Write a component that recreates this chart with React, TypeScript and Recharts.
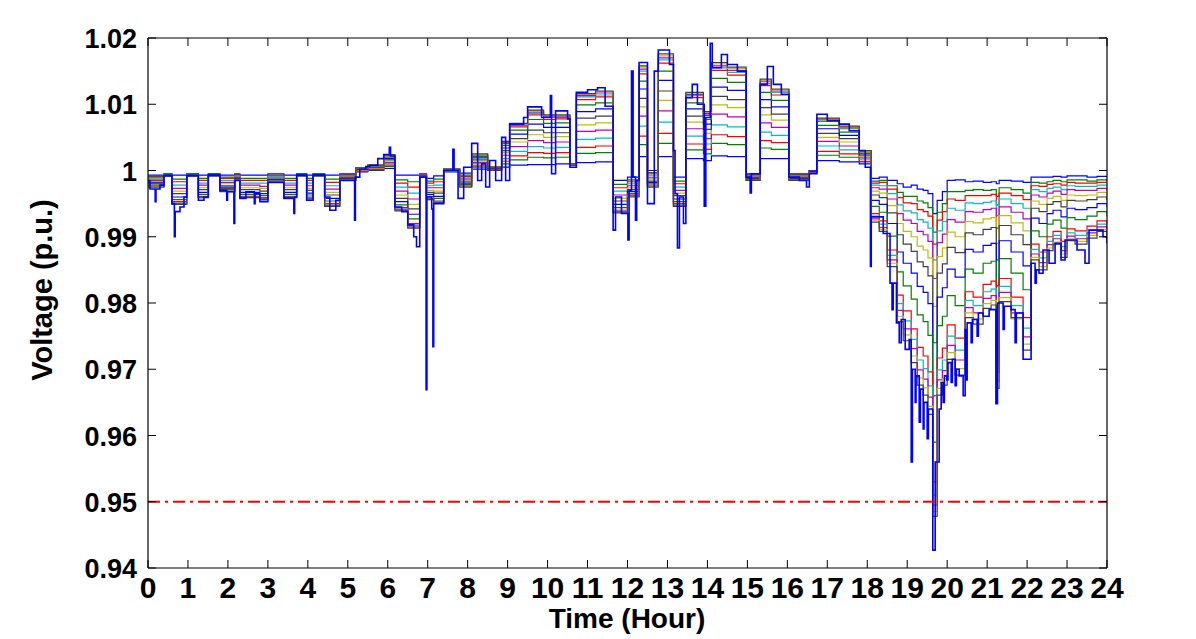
import React from 'react';
import { LineChart, Line, XAxis, YAxis, ReferenceLine } from 'recharts';

const hourTicks = [0, 1, 2, 3, 4, 5, 6, 7, 8, 9, 10, 11, 12, 13, 14, 15, 16, 17, 18, 19, 20, 21, 22, 23, 24];
const voltTicks = [0.94, 0.95, 0.96, 0.97, 0.98, 0.99, 1, 1.01, 1.02];
const limitVoltage = 0.95;

// shared time grid for the intermediate buses
const gridHours = [0, 0.4, 0.6, 0.97, 1.26, 1.51, 1.8, 2.17, 2.3, 2.8, 3.0, 3.4, 3.72, 3.97, 4.13, 4.42, 4.8, 5.2, 5.5, 5.9,
  6.18, 6.5, 6.8, 6.97, 7.15, 7.4, 7.8, 8.1, 8.5, 8.85, 9.05, 9.5, 9.9, 10.2, 10.56, 10.72, 11.2, 11.64, 12.0, 12.29,
  12.5, 12.77, 13.15, 13.46, 13.9, 14.1, 14.5, 14.97, 15.32, 15.6, 16.04, 16.55, 16.74, 17.3, 17.8,
  18.1, 18.3, 18.5, 18.75, 18.9, 19.1, 19.25, 19.4, 19.52, 19.64, 19.75, 19.88, 20.0, 20.2, 20.45, 20.65,
  20.9, 21.1, 21.23, 21.3, 21.6, 21.9, 22.1, 22.3, 22.5, 22.65, 22.85, 23.0, 23.2, 23.5, 23.75, 24.0];

const busTop = [0.9993, 0.9995, 0.9993, 0.9995, 0.9993, 0.9995, 0.9993, 0.9995, 0.9993, 0.9993,
  0.9995, 0.9993, 0.9995, 0.9993, 0.9995, 0.9993, 0.9995, 0.9998, 1.0000, 1.0003,
  0.9993, 0.9993, 0.9995, 0.9988, 0.9992, 0.9998, 0.9996, 1.0002, 1.0000, 1.0005,
  1.0008, 1.0009, 1.0009, 1.0010, 1.0008, 1.0012, 1.0013, 0.9985, 0.9990, 1.0021,
  1.0000, 1.0021, 0.9990, 1.0018, 1.0015, 1.0022, 1.0021, 0.9995, 1.0018, 1.0018,
  0.9995, 0.9998, 1.0015, 1.0013, 1.0010,
  0.9988, 0.9990, 0.9985, 0.9980, 0.9975, 0.9978, 0.9972, 0.9970, 0.9965, 0.9935, 0.9955, 0.9968, 0.9985, 0.9986, 0.9983, 0.9984,
  0.9982, 0.9983, 0.9980, 0.9985, 0.9984, 0.9982, 0.9990, 0.9990, 0.9990, 0.9991, 0.9990, 0.9992, 0.9992, 0.9990, 0.9991, 0.9990];

const bus2 = [0.9991, 0.9995, 0.9987, 0.9995, 0.9988, 0.9995, 0.9990, 0.9994, 0.9988, 0.9988,
  0.9993, 0.9988, 0.9995, 0.9988, 0.9995, 0.9987, 0.9994, 0.9999, 1.0001, 1.0006,
  0.9986, 0.9983, 0.9994, 0.9984, 0.9987, 0.9999, 0.9993, 1.0005, 1.0001, 1.0010,
  1.0016, 1.0020, 1.0019, 1.0020, 1.0008, 1.0026, 1.0027, 0.9979, 0.9986, 1.0039,
  0.9997, 1.0041, 0.9984, 1.0031, 1.0025, 1.0041, 1.0039, 0.9994, 1.0034, 1.0032,
  0.9994, 0.9998, 1.0023, 1.0020, 1.0013,
  0.9984, 0.9985, 0.9977, 0.9967, 0.9961, 0.9961, 0.9954, 0.9951, 0.9944, 0.9907, 0.9937, 0.9950, 0.9968, 0.9968, 0.9970, 0.9971,
  0.9970, 0.9971, 0.9961, 0.9974, 0.9971, 0.9966, 0.9982, 0.9981, 0.9983, 0.9985, 0.9983, 0.9986, 0.9986, 0.9984, 0.9986, 0.9984];

const bus3 = [0.9989, 0.9994, 0.9983, 0.9994, 0.9985, 0.9994, 0.9988, 0.9993, 0.9985, 0.9985,
  0.9992, 0.9985, 0.9994, 0.9985, 0.9994, 0.9982, 0.9993, 0.9999, 1.0002, 1.0008,
  0.9981, 0.9975, 0.9994, 0.9981, 0.9983, 0.9999, 0.9991, 1.0007, 1.0001, 1.0014,
  1.0022, 1.0027, 1.0026, 1.0027, 1.0008, 1.0035, 1.0037, 0.9974, 0.9983, 1.0052,
  0.9995, 1.0056, 0.9980, 1.0040, 1.0032, 1.0054, 1.0051, 0.9993, 1.0045, 1.0042,
  0.9993, 0.9998, 1.0029, 1.0025, 1.0014,
  0.9981, 0.9982, 0.9972, 0.9959, 0.9951, 0.9950, 0.9941, 0.9938, 0.9931, 0.9889, 0.9925, 0.9938, 0.9957, 0.9955, 0.9962, 0.9962,
  0.9962, 0.9964, 0.9948, 0.9966, 0.9962, 0.9956, 0.9977, 0.9976, 0.9979, 0.9980, 0.9978, 0.9982, 0.9981, 0.9981, 0.9982, 0.9981];

const bus4 = [0.9987, 0.9994, 0.9978, 0.9994, 0.9981, 0.9994, 0.9985, 0.9992, 0.9981, 0.9981,
  0.9991, 0.9981, 0.9994, 0.9981, 0.9994, 0.9977, 0.9992, 1.0000, 1.0003, 1.0010,
  0.9975, 0.9966, 0.9993, 0.9977, 0.9978, 0.9999, 0.9989, 1.0010, 1.0002, 1.0018,
  1.0029, 1.0036, 1.0034, 1.0035, 1.0009, 1.0047, 1.0049, 0.9969, 0.9980, 1.0067,
  0.9992, 1.0073, 0.9975, 1.0052, 1.0040, 1.0069, 1.0066, 0.9992, 1.0058, 1.0053,
  0.9992, 0.9999, 1.0037, 1.0031, 1.0017,
  0.9978, 0.9977, 0.9965, 0.9948, 0.9939, 0.9936, 0.9926, 0.9922, 0.9913, 0.9865, 0.9909, 0.9923, 0.9943, 0.9940, 0.9951, 0.9950,
  0.9952, 0.9954, 0.9932, 0.9957, 0.9950, 0.9943, 0.9971, 0.9968, 0.9973, 0.9975, 0.9971, 0.9977, 0.9976, 0.9976, 0.9978, 0.9976];

const bus5 = [0.9985, 0.9994, 0.9973, 0.9994, 0.9978, 0.9994, 0.9982, 0.9991, 0.9978, 0.9976,
  0.9989, 0.9978, 0.9994, 0.9977, 0.9994, 0.9972, 0.9991, 1.0001, 1.0004, 1.0012,
  0.9969, 0.9957, 0.9993, 0.9974, 0.9974, 1.0000, 0.9987, 1.0012, 1.0002, 1.0023,
  1.0036, 1.0045, 1.0042, 1.0043, 1.0009, 1.0059, 1.0061, 0.9963, 0.9977, 1.0082,
  0.9989, 1.0090, 0.9970, 1.0063, 1.0048, 1.0085, 1.0081, 0.9991, 1.0072, 1.0065,
  0.9991, 0.9999, 1.0044, 1.0037, 1.0019,
  0.9974, 0.9972, 0.9957, 0.9935, 0.9925, 0.9920, 0.9908, 0.9903, 0.9893, 0.9837, 0.9891, 0.9904, 0.9926, 0.9922, 0.9938, 0.9937,
  0.9941, 0.9943, 0.9913, 0.9945, 0.9937, 0.9927, 0.9963, 0.9960, 0.9966, 0.9969, 0.9964, 0.9971, 0.9970, 0.9970, 0.9973, 0.9970];

const bus6 = [0.9983, 0.9993, 0.9969, 0.9993, 0.9974, 0.9993, 0.9980, 0.9990, 0.9974, 0.9973,
  0.9988, 0.9974, 0.9993, 0.9973, 0.9993, 0.9967, 0.9990, 1.0001, 1.0004, 1.0014,
  0.9963, 0.9949, 0.9992, 0.9970, 0.9969, 1.0000, 0.9985, 1.0014, 1.0003, 1.0027,
  1.0043, 1.0054, 1.0050, 1.0051, 1.0009, 1.0069, 1.0072, 0.9958, 0.9974, 1.0096,
  0.9987, 1.0106, 0.9966, 1.0073, 1.0056, 1.0099, 1.0095, 0.9990, 1.0084, 1.0076,
  0.9990, 0.9999, 1.0050, 1.0043, 1.0021,
  0.9969, 0.9966, 0.9947, 0.9920, 0.9908, 0.9900, 0.9886, 0.9880, 0.9868, 0.9795, 0.9870, 0.9883, 0.9907, 0.9900, 0.9923, 0.9921,
  0.9927, 0.9929, 0.9890, 0.9932, 0.9921, 0.9909, 0.9954, 0.9949, 0.9958, 0.9961, 0.9955, 0.9963, 0.9962, 0.9963, 0.9967, 0.9963];

const bus7 = [0.9982, 0.9993, 0.9965, 0.9993, 0.9971, 0.9993, 0.9977, 0.9989, 0.9971, 0.9969,
  0.9987, 0.9971, 0.9993, 0.9970, 0.9993, 0.9963, 0.9989, 1.0002, 1.0005, 1.0016,
  0.9958, 0.9942, 0.9992, 0.9967, 0.9966, 1.0001, 0.9983, 1.0016, 1.0003, 1.0030,
  1.0048, 1.0061, 1.0057, 1.0057, 1.0009, 1.0079, 1.0082, 0.9954, 0.9971, 1.0109,
  0.9984, 1.0120, 0.9962, 1.0082, 1.0062, 1.0112, 1.0107, 0.9989, 1.0095, 1.0085,
  0.9989, 0.9999, 1.0056, 1.0048, 1.0023,
  0.9963, 0.9959, 0.9936, 0.9903, 0.9889, 0.9878, 0.9862, 0.9855, 0.9841, 0.9740, 0.9845, 0.9859, 0.9884, 0.9876, 0.9906, 0.9903,
  0.9911, 0.9914, 0.9865, 0.9917, 0.9903, 0.9888, 0.9943, 0.9938, 0.9949, 0.9953, 0.9945, 0.9955, 0.9954, 0.9956, 0.9960, 0.9956];

const bus8 = [0.9980, 0.9993, 0.9960, 0.9993, 0.9967, 0.9993, 0.9975, 0.9988, 0.9967, 0.9965,
  0.9986, 0.9967, 0.9993, 0.9966, 0.9993, 0.9958, 0.9988, 1.0002, 1.0006, 1.0018,
  0.9953, 0.9934, 0.9991, 0.9964, 0.9961, 1.0001, 0.9981, 1.0019, 1.0004, 1.0034,
  1.0055, 1.0070, 1.0065, 1.0065, 1.0009, 1.0089, 1.0093, 0.9949, 0.9968, 1.0123,
  0.9982, 1.0136, 0.9957, 1.0093, 1.0070, 1.0126, 1.0121, 0.9988, 1.0107, 1.0096,
  0.9988, 0.9999, 1.0063, 1.0053, 1.0025,
  0.9955, 0.9949, 0.9920, 0.9877, 0.9860, 0.9845, 0.9825, 0.9816, 0.9799, 0.9660, 0.9809, 0.9823, 0.9851, 0.9839, 0.9881, 0.9877,
  0.9887, 0.9890, 0.9826, 0.9894, 0.9877, 0.9856, 0.9928, 0.9920, 0.9935, 0.9940, 0.9930, 0.9943, 0.9941, 0.9944, 0.9950, 0.9944];

const bus9 = [0.9978, 0.9993, 0.9956, 0.9993, 0.9964, 0.9993, 0.9973, 0.9987, 0.9964, 0.9962,
  0.9984, 0.9964, 0.9993, 0.9963, 0.9993, 0.9954, 0.9987, 1.0003, 1.0007, 1.0020,
  0.9948, 0.9927, 0.9991, 0.9961, 0.9958, 1.0001, 0.9979, 1.0021, 1.0004, 1.0038,
  1.0061, 1.0077, 1.0071, 1.0072, 1.0010, 1.0099, 1.0102, 0.9944, 0.9965, 1.0135,
  0.9980, 1.0150, 0.9953, 1.0102, 1.0077, 1.0139, 1.0133, 0.9987, 1.0118, 1.0106,
  0.9987, 1.0000, 1.0068, 1.0058, 1.0026,
  0.9946, 0.9937, 0.9901, 0.9847, 0.9826, 0.9806, 0.9782, 0.9772, 0.9751, 0.9590, 0.9766, 0.9780, 0.9811, 0.9796, 0.9851, 0.9845,
  0.9860, 0.9863, 0.9782, 0.9867, 0.9845, 0.9820, 0.9909, 0.9900, 0.9919, 0.9925, 0.9913, 0.9929, 0.9926, 0.9931, 0.9938, 0.9931];

const bus10 = [0.9977, 0.9992, 0.9953, 0.9992, 0.9961, 0.9992, 0.9971, 0.9986, 0.9961, 0.9959,
  0.9983, 0.9961, 0.9992, 0.9960, 0.9992, 0.9950, 0.9986, 1.0003, 1.0007, 1.0022,
  0.9944, 0.9920, 0.9991, 0.9958, 0.9954, 1.0002, 0.9977, 1.0023, 1.0005, 1.0041,
  1.0066, 1.0084, 1.0077, 1.0078, 1.0010, 1.0107, 1.0111, 0.9940, 0.9963, 1.0146,
  0.9978, 1.0162, 0.9950, 1.0110, 1.0083, 1.0151, 1.0144, 0.9986, 1.0128, 1.0114,
  0.9986, 1.0000, 1.0074, 1.0063, 1.0028,
  0.9935, 0.9924, 0.9880, 0.9812, 0.9788, 0.9761, 0.9733, 0.9720, 0.9696, 0.9530, 0.9717, 0.9732, 0.9767, 0.9747, 0.9817, 0.9809,
  0.9828, 0.9833, 0.9730, 0.9837, 0.9809, 0.9778, 0.9889, 0.9877, 0.9900, 0.9908, 0.9893, 0.9912, 0.9909, 0.9916, 0.9924, 0.9916];

const bus11 = [0.9976, 0.9992, 0.9951, 0.9992, 0.9960, 0.9992, 0.9970, 0.9986, 0.9960, 0.9958,
  0.9983, 0.9960, 0.9992, 0.9959, 0.9992, 0.9948, 0.9986, 1.0004, 1.0007, 1.0023,
  0.9942, 0.9918, 0.9990, 0.9957, 0.9953, 1.0002, 0.9976, 1.0023, 1.0005, 1.0042,
  1.0068, 1.0086, 1.0080, 1.0080, 1.0010, 1.0111, 1.0114, 0.9939, 0.9962, 1.0150,
  0.9977, 1.0167, 0.9948, 1.0113, 1.0085, 1.0155, 1.0148, 0.9986, 1.0131, 1.0118,
  0.9986, 1.0000, 1.0075, 1.0064, 1.0029,
  0.9931, 0.9919, 0.9872, 0.9799, 0.9773, 0.9745, 0.9714, 0.9701, 0.9675, 0.9510, 0.9699, 0.9714, 0.9750, 0.9729, 0.9804, 0.9796,
  0.9817, 0.9821, 0.9711, 0.9825, 0.9796, 0.9762, 0.9881, 0.9868, 0.9893, 0.9902, 0.9885, 0.9906, 0.9902, 0.9910, 0.9919, 0.9910];

const bus12 = [0.9976, 0.9992, 0.9950, 0.9992, 0.9960, 0.9992, 0.9969, 0.9986, 0.9960, 0.9957,
  0.9983, 0.9960, 0.9992, 0.9958, 0.9992, 0.9947, 0.9986, 1.0004, 1.0008, 1.0023,
  0.9941, 0.9916, 0.9990, 0.9957, 0.9952, 1.0002, 0.9976, 1.0024, 1.0005, 1.0043,
  1.0069, 1.0088, 1.0081, 1.0081, 1.0010, 1.0113, 1.0117, 0.9938, 0.9962, 1.0153,
  0.9976, 1.0170, 0.9947, 1.0115, 1.0086, 1.0158, 1.0151, 0.9986, 1.0134, 1.0120,
  0.9986, 1.0000, 1.0077, 1.0065, 1.0029,
  0.9927, 0.9914, 0.9865, 0.9789, 0.9761, 0.9731, 0.9699, 0.9685, 0.9658, 0.9495, 0.9684, 0.9698, 0.9736, 0.9714, 0.9793, 0.9785,
  0.9807, 0.9811, 0.9695, 0.9816, 0.9785, 0.9749, 0.9874, 0.9861, 0.9888, 0.9897, 0.9879, 0.9901, 0.9897, 0.9906, 0.9915, 0.9906];

const bus13 = [0.9976, 0.9992, 0.9949, 0.9992, 0.9959, 0.9992, 0.9969, 0.9985, 0.9959, 0.9956,
  0.9982, 0.9959, 0.9992, 0.9957, 0.9992, 0.9946, 0.9985, 1.0004, 1.0008, 1.0023,
  0.9940, 0.9914, 0.9990, 0.9956, 0.9951, 1.0002, 0.9976, 1.0024, 1.0005, 1.0044,
  1.0070, 1.0090, 1.0083, 1.0083, 1.0010, 1.0115, 1.0119, 0.9937, 0.9961, 1.0156,
  0.9976, 1.0173, 0.9946, 1.0117, 1.0088, 1.0161, 1.0154, 0.9985, 1.0136, 1.0122,
  0.9985, 1.0000, 1.0078, 1.0066, 1.0029,
  0.9925, 0.9911, 0.9860, 0.9780, 0.9752, 0.9720, 0.9687, 0.9672, 0.9644, 0.9485, 0.9671, 0.9686, 0.9725, 0.9701, 0.9785, 0.9776,
  0.9799, 0.9804, 0.9682, 0.9808, 0.9776, 0.9738, 0.9869, 0.9855, 0.9883, 0.9892, 0.9874, 0.9897, 0.9893, 0.9902, 0.9911, 0.9902];

const bus14 = [0.9975, 0.9992, 0.9949, 0.9992, 0.9959, 0.9992, 0.9968, 0.9985, 0.9959, 0.9956,
  0.9982, 0.9959, 0.9992, 0.9957, 0.9992, 0.9946, 0.9985, 1.0004, 1.0008, 1.0024,
  0.9939, 0.9913, 0.9990, 0.9956, 0.9951, 1.0002, 0.9975, 1.0025, 1.0005, 1.0044,
  1.0071, 1.0091, 1.0084, 1.0084, 1.0010, 1.0116, 1.0120, 0.9936, 0.9960, 1.0158,
  0.9975, 1.0176, 0.9946, 1.0118, 1.0089, 1.0163, 1.0156, 0.9985, 1.0138, 1.0123,
  0.9985, 1.0000, 1.0079, 1.0067, 1.0030,
  0.9922, 0.9908, 0.9855, 0.9772, 0.9743, 0.9710, 0.9676, 0.9661, 0.9632, 0.9478, 0.9661, 0.9676, 0.9715, 0.9691, 0.9778, 0.9768,
  0.9792, 0.9797, 0.9671, 0.9802, 0.9778, 0.9729, 0.9865, 0.9850, 0.9879, 0.9889, 0.9869, 0.9894, 0.9889, 0.9898, 0.9908, 0.9898];

// farthest bus, read at finer resolution (spikes included)
const farHours = [0.00, 0.05, 0.18, 0.20, 0.30, 0.40, 0.60, 0.66, 0.68, 0.80,
  0.90, 0.97, 1.26, 1.40, 1.51, 1.80, 1.97, 1.99, 2.15, 2.17,
  2.30, 2.45, 2.66, 2.68, 2.80, 3.00, 3.40, 3.65, 3.67, 3.72,
  3.97, 4.13, 4.42, 4.55, 4.70, 4.80, 5.17, 5.19, 5.30, 5.45,
  5.55, 5.75, 5.90, 6.04, 6.07, 6.18, 6.35, 6.50, 6.65, 6.72,
  6.80, 6.96, 6.98, 7.10, 7.13, 7.15, 7.40, 7.63, 7.66, 7.76,
  7.90, 8.10, 8.25, 8.35, 8.45, 8.55, 8.70, 8.85, 8.95, 9.05,
  9.40, 9.50, 9.85, 10.07, 10.10, 10.20, 10.50, 10.56, 10.72, 11.00,
  11.25, 11.44, 11.64, 11.70, 11.85, 12.01, 12.04, 12.10, 12.14, 12.20,
  12.23, 12.29, 12.50, 12.67, 12.77, 13.05, 13.15, 13.19, 13.25, 13.30,
  13.40, 13.46, 13.62, 13.75, 13.92, 13.96, 14.07, 14.12, 14.35, 14.50,
  14.75, 14.97, 15.07, 15.10, 15.32, 15.50, 15.65, 15.85, 16.04, 16.30,
  16.48, 16.55, 16.74, 17.00, 17.30, 17.55, 17.80, 17.95,
  18.08, 18.10, 18.40, 18.57, 18.62, 18.65, 18.73, 18.80, 18.85, 18.95,
  19.05, 19.10, 19.13, 19.20, 19.22, 19.30, 19.33, 19.40, 19.42, 19.50,
  19.53, 19.64, 19.70, 19.80, 19.85, 19.90, 19.93, 19.99, 20.02, 20.10,
  20.13, 20.20, 20.23, 20.30, 20.40, 20.45, 20.47, 20.50, 20.60, 20.63,
  20.75, 20.78, 20.90, 21.05, 21.22, 21.26, 21.40, 21.43, 21.60, 21.70,
  21.73, 21.90, 22.10, 22.20, 22.23, 22.30, 22.40, 22.55, 22.70, 22.85,
  22.95, 23.25, 23.45, 23.55, 23.90, 24.00];

const farVolts = [0.9985, 0.9972, 0.9953, 0.9972, 0.9978, 0.9992, 0.9950, 0.9900, 0.9938, 0.9945,
  0.9960, 0.9992, 0.9955, 0.9960, 0.9993, 0.9970, 0.9955, 0.9968, 0.9920, 0.9985,
  0.9958, 0.9968, 0.9950, 0.9965, 0.9953, 0.9982, 0.9958, 0.9935, 0.9960, 0.9993,
  0.9955, 0.9993, 0.9960, 0.9940, 0.9955, 0.9985, 0.9925, 0.9990, 1.0002, 1.0006,
  1.0008, 1.0018, 1.0024, 1.0035, 1.0022, 0.9945, 0.9938, 0.9918, 0.9900, 0.9885,
  0.9990, 0.9669, 0.9960, 0.9942, 0.9734, 0.9950, 1.0000, 1.0032, 1.0000, 0.9958,
  1.0005, 1.0041, 0.9985, 1.0010, 0.9975, 1.0015, 0.9985, 1.0050, 0.9985, 1.0070,
  1.0080, 1.0096, 1.0080, 1.0113, 0.9995, 1.0090, 1.0078, 1.0005, 1.0118, 1.0122,
  1.0125, 1.0097, 0.9910, 0.9960, 0.9935, 0.9895, 0.9970, 1.0150, 0.9990, 0.9925,
  0.9985, 1.0163, 0.9950, 1.0150, 1.0182, 1.0160, 1.0030, 0.9965, 0.9883, 0.9960,
  0.9920, 1.0110, 1.0130, 1.0100, 0.9946, 1.0080, 1.0192, 1.0155, 1.0175, 1.0160,
  1.0150, 0.9990, 0.9966, 0.9995, 1.0130, 1.0157, 1.0130, 1.0115, 0.9990, 0.9985,
  0.9975, 0.9995, 1.0085, 1.0075, 1.0070, 1.0060, 1.0030, 1.0005,
  0.9855, 0.9930, 0.9905, 0.9830, 0.9790, 0.9830, 0.9770, 0.9740, 0.9775, 0.9730,
  0.9745, 0.9560, 0.9700, 0.9650, 0.9690, 0.9620, 0.9670, 0.9610, 0.9650, 0.9595,
  0.9640, 0.9427, 0.9560, 0.9640, 0.9680, 0.9650, 0.9690, 0.9684, 0.9710, 0.9680,
  0.9715, 0.9675, 0.9700, 0.9690, 0.9660, 0.9760, 0.9684, 0.9770, 0.9740, 0.9775,
  0.9750, 0.9785, 0.9780, 0.9790, 0.9648, 0.9800, 0.9760, 0.9795, 0.9790, 0.9740,
  0.9785, 0.9715, 0.9860, 0.9830, 0.9850, 0.9845, 0.9880, 0.9860, 0.9890, 0.9865,
  0.9895, 0.9880, 0.9860, 0.9910, 0.9900, 0.9890];

// MATLAB's old default ColorOrder, cycled over the buses
const BUSES = [
  { key: 'b1', color: '#0000ff', values: busTop },
  { key: 'b2', color: '#008000', values: bus2 },
  { key: 'b3', color: '#ff0000', values: bus3 },
  { key: 'b4', color: '#00bfbf', values: bus4 },
  { key: 'b5', color: '#bf00bf', values: bus5 },
  { key: 'b6', color: '#bfbf00', values: bus6 },
  { key: 'b7', color: '#404040', values: bus7 },
  { key: 'b8', color: '#0000ff', values: bus8 },
  { key: 'b9', color: '#008000', values: bus9 },
  { key: 'b10', color: '#ff0000', values: bus10 },
  { key: 'b11', color: '#00bfbf', values: bus11 },
  { key: 'b12', color: '#bf00bf', values: bus12 },
  { key: 'b13', color: '#bfbf00', values: bus13 },
  { key: 'b14', color: '#404040', values: bus14 },
];

const gridRows = gridHours.map((h, i) => {
  const row: Record<string, number> = { h };
  BUSES.forEach((b) => { row[b.key] = b.values[i]; });
  return row;
});

const farRows = farHours.map((h, i) => ({ h, v: farVolts[i] }));

const FONT = '"Liberation Sans", Arial, Helvetica, sans-serif';
const TICK_LEN = 8;

const BottomTick = ({ x, y, payload }: any) => (
  <g>
    <line x1={x} y1={y} x2={x} y2={y - TICK_LEN} stroke="#000" strokeWidth={1} />
    <text x={x} y={y + 30} textAnchor="middle" fontSize={30} fontWeight="bold" fontFamily={FONT} fill="#000">
      {payload.value}
    </text>
  </g>
);

const TopTick = ({ x, y }: any) => (
  <line x1={x} y1={y} x2={x} y2={y + TICK_LEN} stroke="#000" strokeWidth={1} />
);

const LeftTick = ({ x, y, payload }: any) => (
  <g>
    <line x1={x} y1={y} x2={x + TICK_LEN} y2={y} stroke="#000" strokeWidth={1} />
    <text x={x - 11} y={y + 10} textAnchor="end" fontSize={27} fontWeight="bold" fontFamily={FONT} fill="#000">
      {String(payload.value)}
    </text>
  </g>
);

const RightTick = ({ x, y }: any) => (
  <line x1={x} y1={y} x2={x - TICK_LEN} y2={y} stroke="#000" strokeWidth={1} />
);

const App: React.FC = () => {
  return (
    <div style={{ position: 'absolute', left: 0, top: 0, width: 1196, height: 639, background: '#fff' }}>
      <LineChart width={1196} height={639} data={gridRows} margin={{ top: 30, right: 81, bottom: 41, left: 88 }}>
        <XAxis xAxisId="b" dataKey="h" type="number" domain={[0, 24]} ticks={hourTicks} allowDataOverflow
          height={30} tickSize={0} tickMargin={0} tickLine={false} axisLine={{ stroke: '#000', strokeWidth: 1.2 }}
          tick={(p: any) => <BottomTick {...p} />} interval={0} />
        <XAxis xAxisId="t" orientation="top" dataKey="h" type="number" domain={[0, 24]} ticks={hourTicks} allowDataOverflow
          height={8} tickSize={0} tickMargin={0} tickLine={false} axisLine={{ stroke: '#000', strokeWidth: 1.2 }}
          tick={(p: any) => <TopTick {...p} />} interval={0} />
        <YAxis yAxisId="l" type="number" domain={[0.94, 1.02]} ticks={voltTicks} allowDataOverflow
          width={60} tickSize={0} tickMargin={0} tickLine={false} axisLine={{ stroke: '#000', strokeWidth: 1.2 }}
          tick={(p: any) => <LeftTick {...p} />} interval={0} />
        <YAxis yAxisId="r" orientation="right" type="number" domain={[0.94, 1.02]} ticks={voltTicks} allowDataOverflow
          width={8} tickSize={0} tickMargin={0} tickLine={false} axisLine={{ stroke: '#000', strokeWidth: 1.2 }}
          tick={(p: any) => <RightTick {...p} />} interval={0} />
        {BUSES.map((b) => (
          <Line key={b.key} xAxisId="b" yAxisId="l" type="stepAfter" dataKey={b.key} stroke={b.color}
            strokeWidth={1.2} dot={false} isAnimationActive={false} />
        ))}
        <Line xAxisId="b" yAxisId="l" data={farRows} type="stepAfter" dataKey="v" stroke="#0000ff"
          strokeWidth={1.6} dot={false} isAnimationActive={false} />
        <ReferenceLine xAxisId="b" yAxisId="l" y={limitVoltage} stroke="#ff0000" strokeWidth={2}
          strokeDasharray="12 5 3 5" />
      </LineChart>
      <svg width={1196} height={639} style={{ position: 'absolute', left: 0, top: 0, pointerEvents: 'none' }}>
        <text x={627} y={628} textAnchor="middle" fontSize={28} fontWeight="bold" fontFamily={FONT} fill="#000">
          Time (Hour)
        </text>
        <text x={52} y={290} transform="rotate(-90 52 290)" textAnchor="middle" fontSize={29} fontWeight="bold"
          fontFamily={FONT} fill="#000">
          Voltage (p.u.)
        </text>
      </svg>
    </div>
  );
};

export default App;
